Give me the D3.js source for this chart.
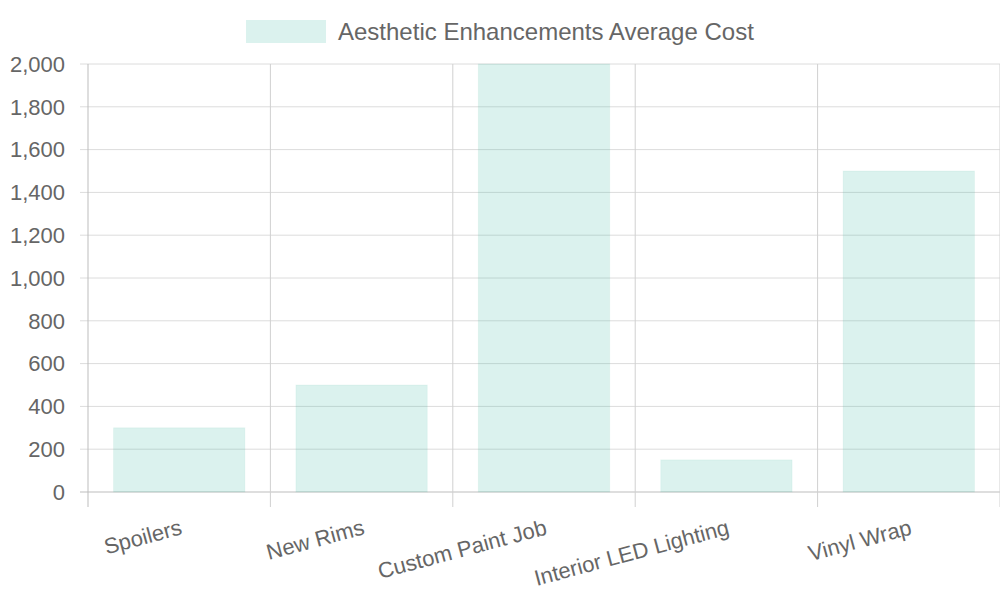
<!DOCTYPE html>
<html><head><meta charset="utf-8">
<script src="https://cdn.jsdelivr.net/npm/d3@7"></script>
<style>body{margin:0;background:#fff}svg{font-family:"Liberation Sans",Arial,sans-serif}</style>
</head><body><svg id="c" width="1000" height="600"></svg>
<script>
const categories = ["Spoilers","New Rims","Custom Paint Job","Interior LED Lighting","Vinyl Wrap"];
const values = [300,500,2000,150,1500];
const yTicks = [0,200,400,600,800,1000,1200,1400,1600,1800,2000];
const seriesName = "Aesthetic Enhancements Average Cost";

const svg = d3.select("#c");
const L=88,R=1000,T=64,B=492;
const x = d3.scaleBand().domain(categories).range([L,R]);
const y = d3.scaleLinear().domain([0,2000]).range([B,T]);
const grid="#dcdcdc", txt="#666";

svg.selectAll(".hg").data(yTicks).join("line")
  .attr("x1",L-8).attr("x2",R).attr("y1",d=>y(d)).attr("y2",d=>y(d))
  .attr("stroke",d=>d===0?"#bdbdbd":grid);
const edges = categories.map(c=>x(c)).concat([R]);
svg.selectAll(".vg").data(edges).join("line")
  .attr("x1",d=>d).attr("x2",d=>d).attr("y1",T).attr("y2",B+15)
  .attr("stroke",(d,i)=>i===0?"#bdbdbd":"#d0d0d0");

const bw = x.bandwidth()*0.72;
svg.selectAll(".bar").data(categories).join("rect")
  .attr("x",c=>x(c)+(x.bandwidth()-bw)/2).attr("width",bw)
  .attr("y",(c,i)=>y(values[i])).attr("height",(c,i)=>B-y(values[i]))
  .attr("fill","rgba(75,192,170,0.2)").attr("stroke","rgba(75,192,170,0.08)");

svg.selectAll(".yl").data(yTicks).join("text")
  .attr("x",65).attr("y",d=>y(d)).attr("dy","0.35em").attr("text-anchor","end")
  .attr("font-size",22).attr("fill",txt).text(d3.format(","));
svg.selectAll(".xl").data(categories).join("text")
  .attr("transform",c=>`translate(${x(c)+x.bandwidth()/2+4},${B+42}) rotate(-15)`)
  .attr("text-anchor","end").attr("font-size",22).attr("fill",txt).text(c=>c);

svg.append("rect").attr("x",246).attr("y",20).attr("width",80).attr("height",23)
  .attr("fill","rgba(75,192,170,0.2)");
svg.append("text").attr("x",338).attr("y",32).attr("dy","0.35em")
  .attr("font-size",24).attr("fill",txt).text(seriesName);
</script></body></html>
